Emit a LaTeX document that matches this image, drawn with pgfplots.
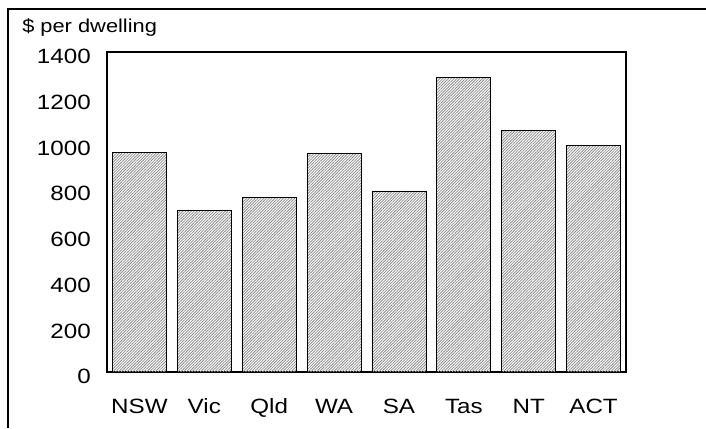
\documentclass[border=0pt]{standalone}
\usepackage{fontspec}
\setmainfont{Liberation Sans}[FakeStretch=1.17]
\usepackage{pgfplots}
\pgfplotsset{compat=1.18}
\usetikzlibrary{patterns.meta}
\begin{document}
\begin{tikzpicture}
% picture size 706 x 428 px, 1 px = 0.75pt
\useasboundingbox (0pt,0pt) rectangle (529.5pt,321pt);
% outer frame, cut at right and bottom
\draw[line width=1.5pt] (6pt,0pt) -- (6pt,314.25pt) -- (529.5pt,314.25pt);
\node[anchor=west,inner sep=0pt,font=\fontsize{14}{16}\selectfont] at (16.5pt,300pt) {\$ per dwelling};
\begin{axis}[
	at={(80.25pt,42pt)}, anchor=south west,
	scale only axis,
	width=389.25pt, height=240pt,
	ymin=0, ymax=1400,
	xmin=-0.5, xmax=7.5,
	ytick={0,200,...,1400},
	xtick={0,...,7},
	xticklabels={NSW,Vic,Qld,WA,SA,Tas,NT,ACT},
	major tick length=0pt,
	axis line style={line width=1.3pt},
	/pgf/number format/assume math mode=true,
	/pgf/number format/1000 sep={},
	yticklabel style={font=\fontsize{15.5}{17}\selectfont, anchor=east, inner sep=0pt, xshift=-12pt, yshift=-3.5pt},
	xticklabel style={font=\fontsize{15.5}{17}\selectfont, anchor=base, inner sep=0pt, yshift=-31pt},
	ybar, bar width=40.5pt,
]
\addplot[draw=black, line width=0.6pt,
	pattern={Lines[angle=45,distance=1.5pt,line width=0.6pt]},
	pattern color=black!45] coordinates {
	(0, 960)
	(1, 705)
	(2, 763)
	(3, 958)
	(4, 792)
	(5, 1290)
	(6, 1058)
	(7, 993)
};
\end{axis}
\end{tikzpicture}
\end{document}
